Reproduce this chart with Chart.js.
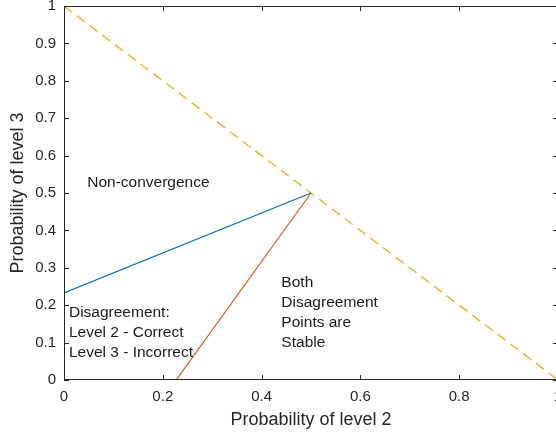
<!DOCTYPE html>
<html>
<head>
<meta charset="utf-8">
<script src="https://cdn.jsdelivr.net/npm/chart.js@4/dist/chart.umd.min.js"></script>
<style>
  html, body { margin: 0; padding: 0; background: #fff; overflow: hidden; }
  #wrap { width: 566px; height: 436px; }
</style>
</head>
<body>
<div id="wrap"><canvas id="plot" width="566" height="436"></canvas></div>
<script>
// data (probability of level 2 on x, level 3 on y)
const boundaryX = [0, 1];
const boundaryY = [1, 0];
const level2X = [0, 0.5];
const level2Y = [0.233, 0.5];
const bothX = [0.227, 0.5];
const bothY = [0, 0.5];

const xTicks = [0, 0.2, 0.4, 0.6, 0.8, 1];
const yTicks = [0, 0.1, 0.2, 0.3, 0.4, 0.5, 0.6, 0.7, 0.8, 0.9, 1];

// region labels, anchored at data coords (left edge, middle of first line)
const regionLabels = [
  { lines: ['Non-convergence'], x: 0.047, y: 0.527 },
  { lines: ['Disagreement:', 'Level 2 - Correct', 'Level 3 - Incorrect'], x: 0.01, y: 0.179 },
  { lines: ['Both', 'Disagreement', 'Points are', 'Stable'], x: 0.44, y: 0.259 },
];

const axisColor = '#262626';
const fontFamily = '"Liberation Sans", Arial, sans-serif';

function toPoints(xs, ys) {
  return xs.map((x, i) => ({ x: x, y: ys[i] }));
}

// inward ticks + full box, drawn on top like matlab
const boxPlugin = {
  id: 'box',
  afterDraw(chart) {
    const { ctx, chartArea: a, scales } = chart;
    const len = 5;
    ctx.save();
    ctx.strokeStyle = axisColor;
    ctx.lineWidth = 1;
    ctx.beginPath();
    ctx.rect(a.left + 0.5, a.top + 0.5, a.right - a.left - 1, a.bottom - a.top - 1);
    xTicks.forEach((v) => {
      const px = Math.round(scales.x.getPixelForValue(v)) + 0.5;
      ctx.moveTo(px, a.bottom);
      ctx.lineTo(px, a.bottom - len);
      ctx.moveTo(px, a.top);
      ctx.lineTo(px, a.top + len);
    });
    yTicks.forEach((v) => {
      const py = Math.round(scales.y.getPixelForValue(v)) + 0.5;
      ctx.moveTo(a.left, py);
      ctx.lineTo(a.left + len, py);
      ctx.moveTo(a.right, py);
      ctx.lineTo(a.right - len, py);
    });
    ctx.stroke();
    ctx.restore();
  },
};

const labelPlugin = {
  id: 'regionLabels',
  afterDatasetsDraw(chart) {
    const { ctx, scales } = chart;
    ctx.save();
    ctx.fillStyle = '#1a1a1a';
    ctx.font = '15.5px ' + fontFamily;
    ctx.textAlign = 'left';
    ctx.textBaseline = 'middle';
    regionLabels.forEach((lab) => {
      const px = scales.x.getPixelForValue(lab.x);
      const py = scales.y.getPixelForValue(lab.y);
      lab.lines.forEach((line, i) => {
        ctx.fillText(line, px, py + i * 20);
      });
    });
    ctx.restore();
  },
};

const ctx = document.getElementById('plot').getContext('2d');
new Chart(ctx, {
  type: 'scatter',
  data: {
    datasets: [
      {
        data: toPoints(level2X, level2Y),
        showLine: true,
        borderColor: '#0072BD',
        borderWidth: 1.2,
        pointRadius: 0,
      },
      {
        data: toPoints(bothX, bothY),
        showLine: true,
        borderColor: '#D95319',
        borderWidth: 1.2,
        pointRadius: 0,
      },
      {
        data: toPoints(boundaryX, boundaryY),
        showLine: true,
        borderColor: '#EDB120',
        borderWidth: 1.4,
        borderDash: [10, 6],
        pointRadius: 0,
      },
    ],
  },
  options: {
    responsive: false,
    animation: false,
    layout: { padding: { top: 6, right: 8, left: 0, bottom: 0 } },
    plugins: {
      legend: { display: false },
      tooltip: { enabled: false },
    },
    scales: {
      x: {
        type: 'linear',
        min: 0,
        max: 1,
        afterBuildTicks: (scale) => {
          scale.ticks = xTicks.map((v) => ({ value: v }));
        },
        afterFit: (scale) => {
          scale.height = 56;
          scale.paddingLeft = 0;
          scale.paddingRight = 0;
        },
        grid: { display: false, drawTicks: false },
        border: { display: false },
        ticks: {
          padding: 8,
          maxRotation: 0,
          color: axisColor,
          font: { family: fontFamily, size: 15 },
          callback: (v) => String(v),
        },
        title: {
          display: true,
          text: 'Probability of level 2',
          color: axisColor,
          font: { family: fontFamily, size: 18 },
          padding: { top: 0, bottom: 5 },
        },
      },
      y: {
        type: 'linear',
        min: 0,
        max: 1,
        afterBuildTicks: (scale) => {
          scale.ticks = yTicks.map((v) => ({ value: v }));
        },
        afterFit: (scale) => {
          scale.width = 64;
          scale.paddingTop = 0;
          scale.paddingBottom = 0;
        },
        grid: { display: false, drawTicks: false },
        border: { display: false },
        ticks: {
          padding: 8,
          color: axisColor,
          font: { family: fontFamily, size: 15 },
          callback: (v) => String(v),
        },
        title: {
          display: true,
          text: 'Probability of level 3',
          color: axisColor,
          font: { family: fontFamily, size: 18 },
          padding: { top: 7, bottom: 0 },
        },
      },
    },
  },
  plugins: [boxPlugin, labelPlugin],
});
</script>
</body>
</html>
